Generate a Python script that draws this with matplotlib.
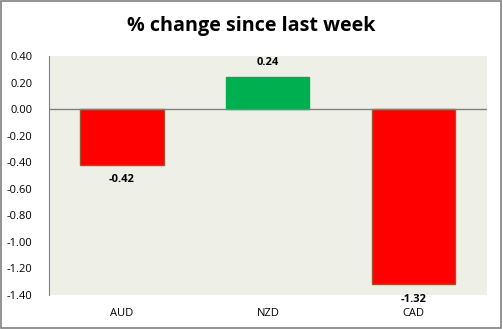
import matplotlib.pyplot as plt
from matplotlib.patches import Rectangle

# values
currencies = ['AUD', 'NZD', 'CAD']
changes = [-0.42, 0.24, -1.32]
bar_colors = ['#FF0000', '#00B050', '#FF0000']
edge_colors = ['#A0522D', '#00B050', '#A0522D']
y_ticks = [0.40, 0.20, 0.00, -0.20, -0.40, -0.60, -0.80, -1.00, -1.20, -1.40]

plt.rcParams['font.family'] = ['Open Sans', 'DejaVu Sans']

fig = plt.figure(figsize=(5.03, 3.29), dpi=100)
ax = fig.add_axes([0.0974, 0.1033, 0.8704, 0.7265])
ax.set_facecolor('#EEF0E8')

x = list(range(len(currencies)))
ax.bar(x, changes, width=0.57, color=bar_colors, edgecolor=edge_colors, linewidth=1, zorder=2)
ax.axhline(0, color='#808080', linewidth=1, zorder=3)

# value labels
for xi, v in zip(x, changes):
    if v >= 0:
        ax.text(xi, v + 0.07, f'{v:.2f}', ha='center', va='bottom', fontsize=8, fontweight='bold')
    else:
        ax.text(xi, v - 0.07, f'{v:.2f}', ha='center', va='top', fontsize=8, fontweight='bold')

ax.set_xlim(-0.5, 2.5)
ax.set_ylim(-1.4, 0.4)
ax.set_yticks(y_ticks)
ax.set_yticklabels([f'{t:.2f}' for t in y_ticks], fontsize=8)
ax.set_xticks(x)
ax.set_xticklabels(currencies, fontsize=8)
ax.tick_params(axis='both', length=0)
ax.tick_params(axis='y', pad=12)
ax.tick_params(axis='x', pad=9)

for side in ['top', 'right', 'bottom']:
    ax.spines[side].set_visible(False)
ax.spines['left'].set_color('#808080')

fig.text(0.5, 0.921, '% change since last week', ha='center', va='center', fontsize=14.2, fontweight='bold')

# grey frame around whole chart
fig.patches.append(Rectangle((0.002, 0.003), 0.995, 0.994, transform=fig.transFigure,
                             fill=False, edgecolor='#808080', linewidth=1.2))

fig.savefig('out.png', dpi=100)
